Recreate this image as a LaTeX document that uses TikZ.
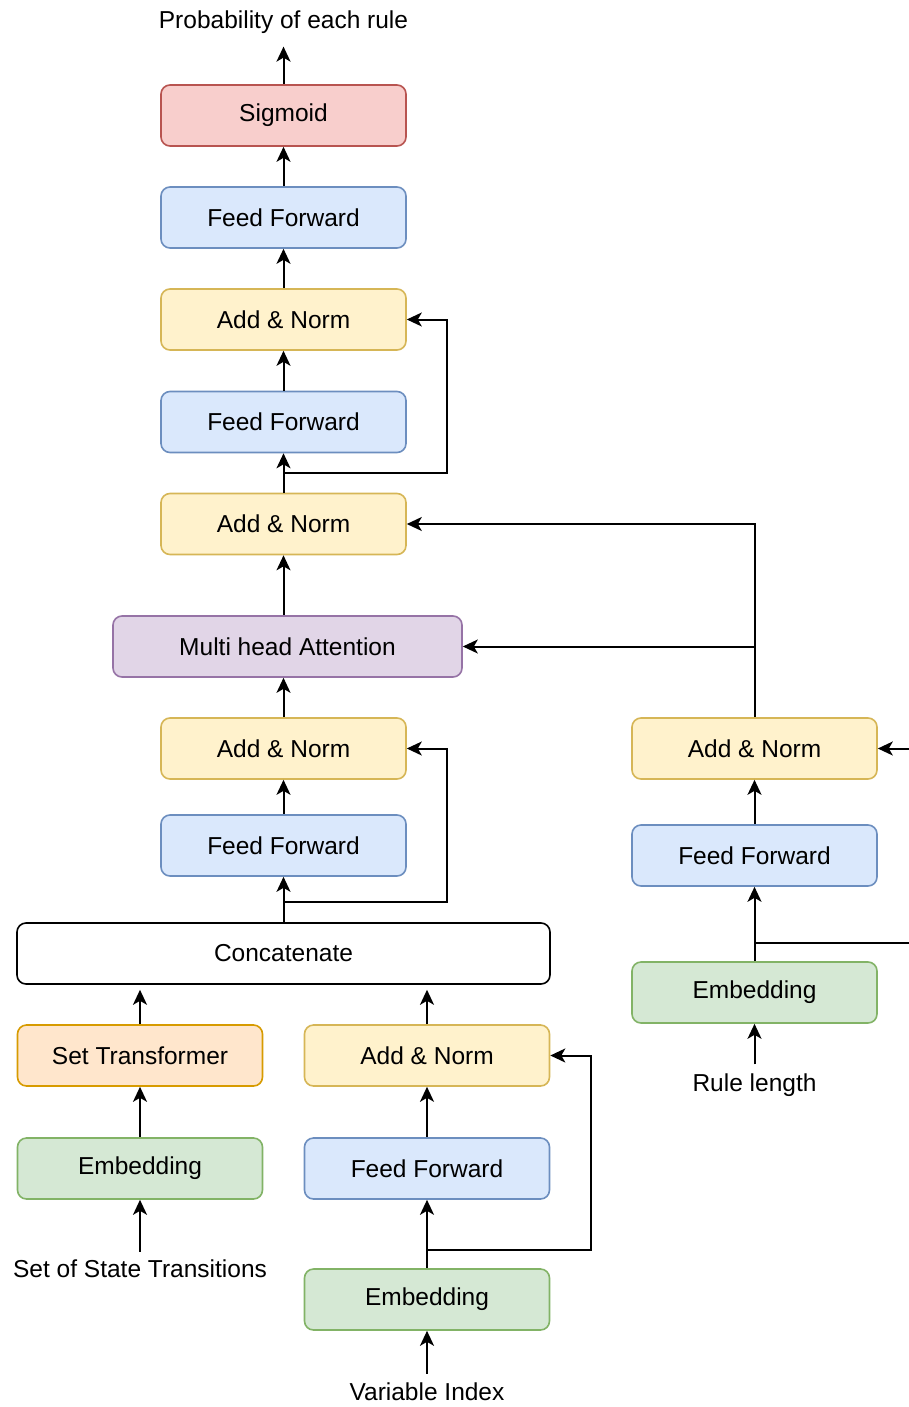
\documentclass[tikz,border=0pt]{standalone}
\usepackage{fontspec}
\setmainfont{Liberation Sans}
\usetikzlibrary{arrows.meta}
\definecolor{redF}{HTML}{F8CECC}\definecolor{redD}{HTML}{B85450}
\definecolor{bluF}{HTML}{DAE8FC}\definecolor{bluD}{HTML}{6C8EBF}
\definecolor{yelF}{HTML}{FFF2CC}\definecolor{yelD}{HTML}{D6B656}
\definecolor{purF}{HTML}{E1D5E7}\definecolor{purD}{HTML}{9673A6}
\definecolor{grnF}{HTML}{D5E8D4}\definecolor{grnD}{HTML}{82B366}
\definecolor{oraF}{HTML}{FFE6CC}\definecolor{oraD}{HTML}{D79B00}
\begin{document}
\begin{tikzpicture}[x=1pt,y=-1pt,
  box/.style={rounded corners=9pt, line width=1.6pt, minimum width=245pt, minimum height=61pt, inner sep=0pt, font=\fontsize{24.5}{29}\selectfont},
  redbox/.style={box, fill=redF, draw=redD},
  blubox/.style={box, fill=bluF, draw=bluD},
  yelbox/.style={box, fill=yelF, draw=yelD},
  purbox/.style={box, fill=purF, draw=purD},
  grnbox/.style={box, fill=grnF, draw=grnD},
  orabox/.style={box, fill=oraF, draw=oraD},
  whtbox/.style={box, fill=white, draw=black},
  lbl/.style={inner sep=0pt, font=\fontsize{24.5}{29}\selectfont},
  ln/.style={line width=2pt, draw=black},
  arr/.style={ln, -{Stealth[length=15pt,width=14pt,inset=4pt]}}]
\useasboundingbox (0,0) rectangle (909,1407);
\fill[white] (0,0) rectangle (909,1407);
% main column
\node[lbl] (prob) at (283.5,22) {Probability of each rule};
\node[redbox] (sig) at (283.5,115.5) {Sigmoid};
\node[blubox] (ff3) at (283.5,217.5) {Feed Forward};
\node[yelbox] (an3) at (283.5,319.5) {Add \& Norm};
\node[blubox] (ff2) at (283.5,422) {Feed Forward};
\node[yelbox] (an2) at (283.5,524) {Add \& Norm};
\node[purbox, minimum width=349pt] (mha) at (287.5,646.5) {Multi head Attention};
\node[yelbox] (an1) at (283.5,748.5) {Add \& Norm};
\node[blubox] (ff1) at (283.5,845.5) {Feed Forward};
\node[whtbox, minimum width=533pt] (cat) at (283.5,953.5) {Concatenate};
% left bottom
\node[orabox] (st) at (140,1055.5) {Set Transformer};
\node[grnbox] (embL) at (140,1168.5) {Embedding};
\node[lbl] (sst) at (140,1269) {Set of State Transitions};
% variable column
\node[yelbox] (anV) at (427,1055.5) {Add \& Norm};
\node[blubox] (ffV) at (427,1168.5) {Feed Forward};
\node[grnbox] (embV) at (427,1299.5) {Embedding};
\node[lbl] (vi) at (427,1392) {Variable Index};
% rule column
\node[yelbox] (anR) at (754.5,748.5) {Add \& Norm};
\node[blubox] (ffR) at (754.5,855.5) {Feed Forward};
\node[grnbox] (embR) at (754.5,992.5) {Embedding};
\node[lbl] (rl) at (754.5,1085) {Rule length};
% coordinates
\coordinate (t3) at (283.5,473);
\coordinate (t1) at (283.5,902);
\coordinate (tV) at (427,1250);
\coordinate (tR) at (754.5,943);
\coordinate (eR1) at (909,943);
\coordinate (eR2) at (909,748.5);
\coordinate (jR) at (754.5,646.5);
% main arrows
\draw[arr, shorten >=13pt] (sig.north) -- (prob.south);
\draw[arr] (ff3.north) -- (sig.south);
\draw[arr] (an3.north) -- (ff3.south);
\draw[arr] (ff2.north) -- (an3.south);
\draw[arr] (an2.north) -- (ff2.south);
\draw[arr] (t3) -- ++(163.5,0) |- (an3.east);
\draw[arr] (mha.north -| an2.south) -- (an2.south);
\draw[arr] (an1.north) -- (an1.north |- mha.south);
\draw[arr] (ff1.north) -- (an1.south);
\draw[arr] (cat.north -| ff1.south) -- (ff1.south);
\draw[arr] (t1) -- ++(163.5,0) |- (an1.east);
% left
\draw[arr, shorten >=5pt] (st.north) -- (st.north |- cat.south);
\draw[arr] (embL.north) -- (st.south);
\draw[arr, shorten <=8pt] (sst.north) -- (embL.south);
% variable
\draw[arr, shorten >=5pt] (anV.north) -- (anV.north |- cat.south);
\draw[arr] (ffV.north) -- (anV.south);
\draw[arr] (embV.north) -- (ffV.south);
\draw[arr] (tV) -- ++(163.5,0) |- (anV.east);
\draw[arr, shorten <=9pt] (vi.north) -- (embV.south);
% rule
\draw[arr, shorten <=9pt] (rl.north) -- (embR.south);
\draw[arr] (embR.north) -- (ffR.south);
\draw[arr] (ffR.north) -- (anR.south);
\draw[ln] (tR) -- (eR1);
\draw[arr] (eR2) -- (anR.east);
\draw[arr] (anR.north) |- (an2.east);
\draw[arr] (jR) -- (mha.east);
\end{tikzpicture}
\end{document}
